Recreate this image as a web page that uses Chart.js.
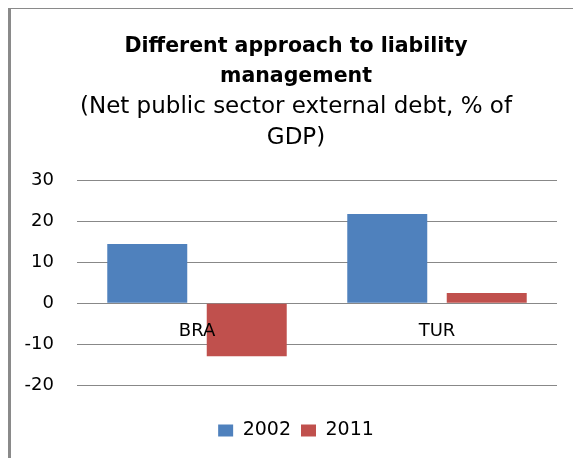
<!DOCTYPE html>
<html>
<head>
<meta charset="utf-8">
<script src="https://cdn.jsdelivr.net/npm/chart.js@4.4.1/dist/chart.umd.min.js"></script>
<style>
  html, body { margin: 0; padding: 0; background: #fff; overflow: hidden; }
  #c { display: block; }
</style>
</head>
<body>
<canvas id="c" width="573" height="458"></canvas>
<script>
const categories = ['BRA', 'TUR'];
const seriesNames = ['2002', '2011'];
const values2002 = [14.5, 21.8];
const values2011 = [-13.0, 2.5];
const yTicks = [-20, -10, 0, 10, 20, 30];
const titleLines = ['Different approach to liability', 'management'];
const subtitleLines = ['(Net public sector external debt, % of', 'GDP)'];

const FONT = "'DejaVu Sans', sans-serif";

const framePlugin = {
  id: 'frame',
  beforeDraw(chart) {
    const ctx = chart.ctx;
    ctx.save();
    ctx.fillStyle = '#ffffff';
    ctx.fillRect(0, 0, chart.width, chart.height);
    ctx.fillStyle = '#8a8a8a';
    ctx.fillRect(8, 8, 3, chart.height - 8);
    ctx.fillRect(8, 8, chart.width - 8, 1);
    ctx.restore();
  }
};

new Chart(document.getElementById('c'), {
  type: 'bar',
  data: {
    labels: categories,
    datasets: [
      { label: seriesNames[0], data: values2002, backgroundColor: '#4F81BD', borderWidth: 0, xAxisID: 'x', yAxisID: 'y' },
      { label: seriesNames[1], data: values2011, backgroundColor: '#C0504D', borderWidth: 0, xAxisID: 'x', yAxisID: 'y' }
    ]
  },
  options: {
    responsive: false,
    animation: false,
    devicePixelRatio: 1,
    categoryPercentage: 0.829,
    barPercentage: 0.804,
    layout: { padding: { left: 20, right: 1, top: 0, bottom: 8 } },
    plugins: {
      title: {
        display: true,
        text: titleLines,
        color: '#000',
        font: { family: FONT, size: 20.5, weight: 'bold', lineHeight: 1.4634 },
        padding: { top: 32, bottom: 0 }
      },
      subtitle: {
        display: true,
        text: subtitleLines,
        color: '#000',
        font: { family: FONT, size: 23, weight: 'normal', lineHeight: 1.348 },
        padding: { top: 0, bottom: 26.5 }
      },
      legend: {
        display: true,
        position: 'bottom',
        labels: {
          color: '#000',
          font: { family: FONT, size: 19 },
          boxWidth: 15,
          boxHeight: 12,
          padding: 10
        }
      },
      tooltip: { enabled: false }
    },
    scales: {
      x: {
        position: { y: 0 },
        grid: { display: false, drawTicks: false },
        border: { display: false },
        ticks: { color: '#000', font: { family: FONT, size: 18 }, padding: 17.5, z: 1 }
      },
      xspace: {
        type: 'category',
        position: 'bottom',
        display: true,
        grid: { display: false, drawTicks: false },
        border: { display: false },
        ticks: { display: false },
        afterFit(scale) { scale.height = 26; }
      },
      y: {
        position: 'left',
        min: -20,
        max: 30,
        afterBuildTicks(scale) { scale.ticks = yTicks.map(v => ({ value: v })); },
        afterFit(scale) { scale.width = 57; },
        grid: { color: '#888888', lineWidth: 1, drawTicks: false },
        border: { display: false },
        ticks: { color: '#000', font: { family: FONT, size: 18 }, padding: 23 }
      },
      yspace: {
        type: 'linear',
        position: 'right',
        display: true,
        grid: { display: false, drawTicks: false },
        border: { display: false },
        ticks: { display: false },
        afterFit(scale) { scale.width = 15; }
      }
    }
  },
  plugins: [framePlugin]
});
</script>
</body>
</html>
